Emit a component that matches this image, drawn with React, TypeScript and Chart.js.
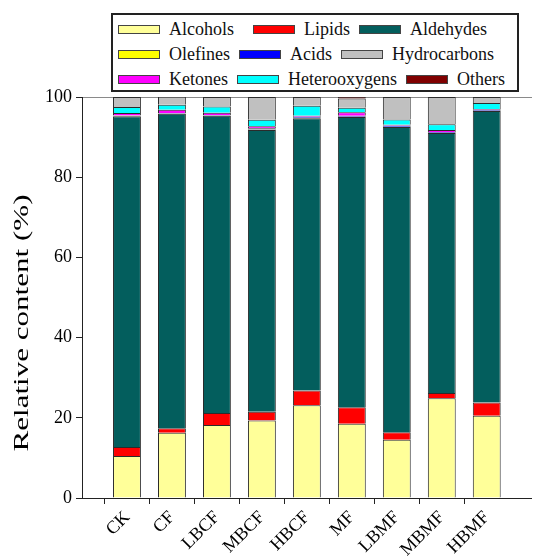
import { useEffect, useRef } from "react";
import { Chart, registerables, type ChartConfiguration, type Plugin } from "chart.js";

Chart.register(...registerables);

// sample groups on the x axis
const samples = ["CK", "CF", "LBCF", "MBCF", "HBCF", "MF", "LBMF", "MBMF", "HBMF"];

// relative content (%) per compound class
const alcohols = [10.5, 16.3, 18.2, 19.3, 23.1, 18.5, 14.5, 24.9, 20.5];
const lipids = [2.2, 1.1, 3.0, 2.2, 3.7, 4.1, 1.9, 1.3, 3.3];
const aldehydes = [82.5, 78.4, 74.1, 70.3, 67.9, 72.4, 76.1, 64.8, 72.7];
const olefines = [0.1, 0.1, 0.1, 0.1, 0.1, 0.1, 0.1, 0.1, 0.1];
const acids = [0.1, 0.1, 0.1, 0.3, 0.3, 0.2, 0.3, 0.2, 0.2];
const ketones = [0.6, 0.8, 0.6, 0.5, 0.2, 0.9, 0.2, 0.5, 0.2];
const heterooxygens = [1.5, 1.25, 1.5, 1.6, 2.5, 1.1, 1.3, 1.4, 1.5];
const hydrocarbons = [2.5, 2.0, 2.4, 5.7, 2.2, 2.3, 5.6, 6.8, 1.5];
const others = [0, 0, 0, 0, 0, 0.4, 0, 0, 0];

const yTicks = [0, 20, 40, 60, 80, 100];
const yTitle = "Relative content (%)";

// stacking order, bottom to top
const series = [
  { label: "Alcohols", data: alcohols, color: "#FFFF99" },
  { label: "Lipids", data: lipids, color: "#FF0000" },
  { label: "Aldehydes", data: aldehydes, color: "#035E5D" },
  { label: "Olefines", data: olefines, color: "#FFFF00" },
  { label: "Acids", data: acids, color: "#0000FF" },
  { label: "Ketones", data: ketones, color: "#FF00FF" },
  { label: "Heterooxygens", data: heterooxygens, color: "#00FFFF" },
  { label: "Hydrocarbons", data: hydrocarbons, color: "#C0C0C0" },
  { label: "Others", data: others, color: "#800000" },
];

const legendRows = [
  ["Alcohols", "Lipids", "Aldehydes"],
  ["Olefines", "Acids", "Hydrocarbons"],
  ["Ketones", "Heterooxygens", "Others"],
];

const serif = "Liberation Serif";

// one empty slot each side so the bars sit a full step in from the frame
const pad = <T,>(v: T[]) => [null, ...v, null];

const yTitlePlugin: Plugin = {
  id: "yTitle",
  afterDraw(chart) {
    const { ctx, chartArea } = chart;
    ctx.save();
    ctx.font = `22px "${serif}"`;
    const w = ctx.measureText(yTitle).width;
    ctx.translate(22, chartArea.top + 226);
    ctx.rotate(-Math.PI / 2);
    ctx.scale(257 / w, 1);
    ctx.fillStyle = "#000";
    ctx.textAlign = "center";
    ctx.textBaseline = "middle";
    ctx.fillText(yTitle, 0, 0);
    ctx.restore();
  },
};

function StackedBars() {
  const canvasRef = useRef<HTMLCanvasElement>(null);

  useEffect(() => {
    if (!canvasRef.current) return;
    const last = samples.length + 1;

    const config: ChartConfiguration<"bar"> = {
      type: "bar",
      data: {
        labels: ["", ...samples, ""],
        datasets: series.map((s) => ({
          label: s.label,
          data: pad(s.data) as any,
          backgroundColor: s.color,
          borderColor: "#2b2b2b",
          borderWidth: 1,
          categoryPercentage: 1,
          barPercentage: 0.62,
        })),
      },
      options: {
        animation: false,
        responsive: true,
        maintainAspectRatio: false,
        layout: { padding: { top: 97, right: 16, left: 0, bottom: 0 } },
        plugins: {
          legend: { display: false },
          tooltip: { enabled: false },
        },
        scales: {
          x: {
            stacked: true,
            offset: false,
            grid: {
              drawOnChartArea: false,
              tickLength: 6,
              color: "#222",
              tickColor: (c) => (c.index === 0 || c.index === last ? "rgba(0,0,0,0)" : "#222"),
            },
            border: { color: "#222", width: 1 },
            ticks: {
              autoSkip: false,
              minRotation: 45,
              maxRotation: 45,
              padding: 3,
              color: "#000",
              font: { family: serif, size: 18 },
            },
            afterFit: (s) => {
              s.height = 61;
            },
          },
          x2: {
            type: "category",
            position: "top",
            grid: { display: false },
            ticks: { display: false },
            border: { color: "#8a8a8a", width: 1 },
            afterFit: (s) => {
              s.height = 0;
            },
          },
          y: {
            stacked: true,
            min: 0,
            max: 100,
            grid: { drawOnChartArea: false, tickLength: 6, color: "#222" },
            border: { color: "#222", width: 1 },
            ticks: {
              padding: 4,
              color: "#000",
              font: { family: serif, size: 18 },
            },
            afterBuildTicks: (s) => {
              s.ticks = yTicks.map((v) => ({ value: v }));
            },
            afterFit: (s) => {
              s.width = 82;
            },
          },
        },
      },
      plugins: [yTitlePlugin],
    };

    const chart = new Chart(canvasRef.current, config);
    return () => chart.destroy();
  }, []);

  const colorOf = (name: string) => series.find((s) => s.label === name)?.color;

  return (
    <div style={{ position: "fixed", left: 0, top: 0, width: 550, height: 559, background: "#fff" }}>
      <canvas ref={canvasRef} />
      <div
        style={{
          position: "absolute",
          left: 111,
          top: 13,
          width: 408,
          height: 79,
          boxSizing: "border-box",
          border: "2px solid #222",
          padding: "2px 0 0 5px",
          fontFamily: `"${serif}"`,
          fontSize: 18,
          color: "#111",
          background: "#fff",
        }}
      >
        {legendRows.map((row, i) => (
          <div key={i} style={{ display: "flex", alignItems: "center", height: 25, whiteSpace: "nowrap" }}>
            {row.map((name, j) => (
              <span
                key={name}
                style={{ display: "flex", alignItems: "center", marginRight: i === 0 && j === 0 ? 19 : 9 }}
              >
                <span
                  style={{
                    display: "inline-block",
                    width: 42,
                    height: 9,
                    boxSizing: "border-box",
                    border: "1px solid #444",
                    background: colorOf(name),
                    marginRight: 9,
                  }}
                />
                <span>{name}</span>
              </span>
            ))}
          </div>
        ))}
      </div>
    </div>
  );
}

export default function App() {
  return <StackedBars />;
}
